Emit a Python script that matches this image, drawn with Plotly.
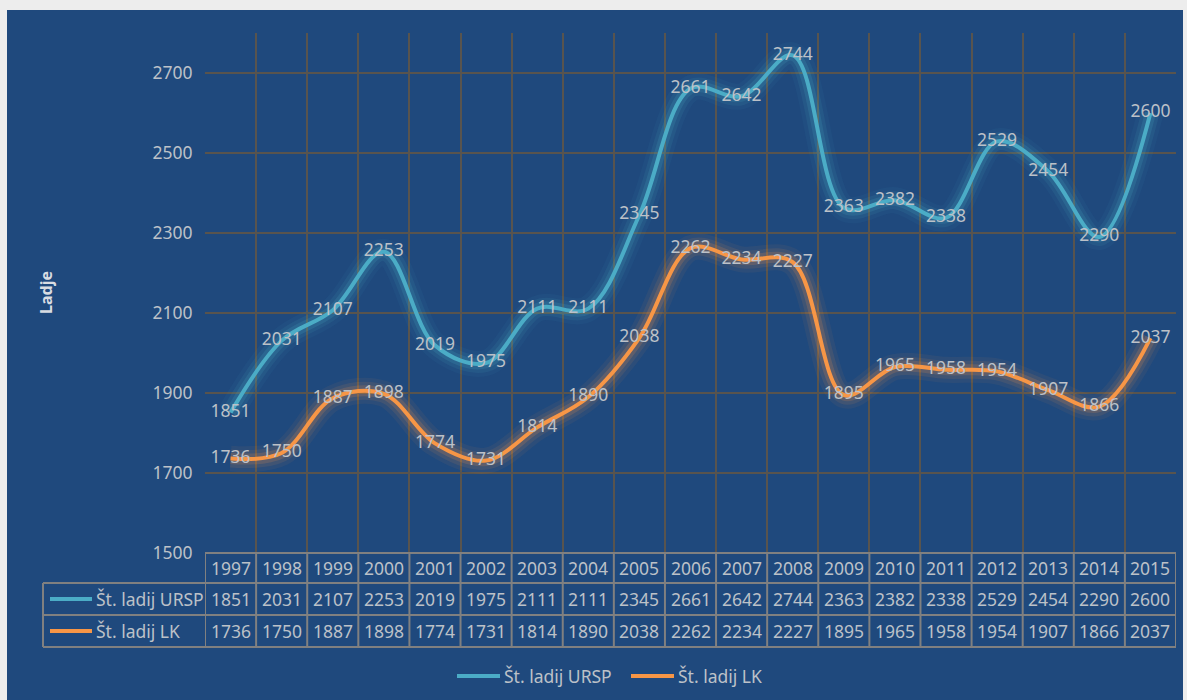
import plotly.graph_objects as go

years = [str(y) for y in range(1997, 2016)]
ursp = [1851, 2031, 2107, 2253, 2019, 1975, 2111, 2111, 2345, 2661, 2642, 2744,
        2363, 2382, 2338, 2529, 2454, 2290, 2600]
lk = [1736, 1750, 1887, 1898, 1774, 1731, 1814, 1890, 2038, 2262, 2234, 2227,
      1895, 1965, 1958, 1954, 1907, 1866, 2037]
series_names = ["Št. ladij URSP", "Št. ladij LK"]
y_ticks = [1500, 1700, 1900, 2100, 2300, 2500, 2700]

W, H = 1187, 700
L, R, T, B = 205, 1176, 33, 553
BG = "#1F497D"
CYAN = "#4BACC6"
ORANGE = "#F79646"
TXT = "#BCC1C8"
GRID = "rgb(88,84,78)"
TLINE = "#808080"
FONT = "Noto Sans"
FS = 17.5


def px(xp):
    return (xp - L) / (R - L)


def py(yp):
    return (B - yp) / (B - T)


def rgba(hexc, a):
    h = hexc.lstrip("#")
    r, g, b = int(h[0:2], 16), int(h[2:4], 16), int(h[4:6], 16)
    return f"rgba({r},{g},{b},{a})"


xs = list(range(len(years)))
fig = go.Figure()
colors = [CYAN, ORANGE]
all_vals = [ursp, lk]

for vals, col in zip(all_vals, colors):
    for w, a in [(26, 0.06), (18, 0.10), (11, 0.17)]:
        fig.add_trace(go.Scatter(x=xs, y=vals, mode="lines",
                                 line=dict(color=rgba(col, a), width=w, shape="spline", smoothing=1.0),
                                 showlegend=False, hoverinfo="skip"))
for vals, col, name in zip(all_vals, colors, series_names):
    fig.add_trace(go.Scatter(x=xs, y=vals, mode="lines+text", name=name,
                             line=dict(color=col, width=4, shape="spline", smoothing=1.0),
                             text=[str(v) for v in vals], textposition="middle center",
                             textfont=dict(color=TXT, size=FS, family=FONT),
                             cliponaxis=False, showlegend=False))

shapes = []
# blue chart area
shapes.append(dict(type="rect", xref="paper", yref="paper", layer="below",
                   x0=px(7), x1=px(1183), y0=py(10), y1=py(H + 5),
                   fillcolor=BG, line=dict(width=0)))

# table
n = len(years)
row_y = [553, 583, 615, 647]
shapes.append(dict(type="line", xref="x", yref="paper", x0=-0.5, x1=n - 0.5,
                   y0=py(row_y[0]), y1=py(row_y[0]), line=dict(color=TLINE, width=2)))
for ry in row_y[1:]:
    shapes.append(dict(type="line", xref="paper", yref="paper", x0=px(43), x1=1,
                       y0=py(ry), y1=py(ry), line=dict(color=TLINE, width=2)))
for i in range(n + 1):
    shapes.append(dict(type="line", xref="x", yref="paper", x0=i - 0.5, x1=i - 0.5,
                       y0=py(row_y[0]), y1=py(row_y[3]), line=dict(color=TLINE, width=2)))
shapes.append(dict(type="line", xref="paper", yref="paper", x0=px(43), x1=px(43),
                   y0=py(row_y[1]), y1=py(row_y[3]), line=dict(color=TLINE, width=2)))
for k, col in enumerate(colors):
    yc = py((row_y[k + 1] + row_y[k + 2]) / 2)
    shapes.append(dict(type="line", xref="paper", yref="paper", x0=px(50), x1=px(92),
                       y0=yc, y1=yc, line=dict(color=col, width=4)))

annotations = []
for i, yr in enumerate(years):
    annotations.append(dict(x=i, y=py((row_y[0] + row_y[1]) / 2), xref="x", yref="paper",
                            xanchor="center", yanchor="middle",
                            text=yr, showarrow=False, font=dict(color=TXT, size=FS, family=FONT)))
    for k, vals in enumerate(all_vals):
        annotations.append(dict(x=i, y=py((row_y[k + 1] + row_y[k + 2]) / 2), xref="x", yref="paper",
                                xanchor="center", yanchor="middle",
                                text=str(vals[i]), showarrow=False,
                                font=dict(color=TXT, size=FS, family=FONT)))
for k, nm in enumerate(series_names):
    annotations.append(dict(x=px(94), y=py((row_y[k + 1] + row_y[k + 2]) / 2), xref="paper", yref="paper",
                            text=nm, showarrow=False, xanchor="left", yanchor="middle",
                            font=dict(color=TXT, size=FS, family=FONT)))

# bottom legend (manual)
leg_y = py(676)
for (x0, x1, tx), col, nm in zip([(457, 500, 502), (631, 674, 676)], colors, series_names):
    shapes.append(dict(type="line", xref="paper", yref="paper", x0=px(x0), x1=px(x1),
                       y0=leg_y, y1=leg_y, line=dict(color=col, width=4)))
    annotations.append(dict(x=px(tx), y=leg_y, xref="paper", yref="paper", text=nm,
                            showarrow=False, xanchor="left", yanchor="middle",
                            font=dict(color=TXT, size=FS, family=FONT)))

# y axis title
annotations.append(dict(x=px(46), y=py(293), xref="paper", yref="paper", text="Ladje",
                        textangle=-90, showarrow=False, xanchor="center", yanchor="middle",
                        font=dict(color="#D8DCE2", size=16, family=FONT, weight="bold")))

fig.update_layout(
    width=W, height=H,
    margin=dict(l=L, r=W - R, t=T, b=H - B),
    paper_bgcolor="#EDEDED",
    plot_bgcolor=BG,
    showlegend=False,
    hovermode=False,
    shapes=shapes,
    annotations=annotations,
    xaxis=dict(range=[-0.5, n - 0.5], tickvals=[i - 0.5 for i in range(n + 1)],
               showticklabels=False, showgrid=True, gridcolor=GRID, gridwidth=2,
               zeroline=False, showline=False, ticks="", fixedrange=True),
    yaxis=dict(range=[1500, 2800], tickvals=y_ticks, showgrid=True, gridcolor=GRID, gridwidth=2,
               zeroline=False, showline=False, ticks="outside", ticklen=8, tickcolor="rgba(0,0,0,0)",
               tickfont=dict(color=TXT, size=FS, family=FONT), fixedrange=True),
)

fig.write_html("out.html", config={"displayModeBar": False},
               post_script="document.body.style.margin='0';document.body.style.overflow='hidden';")
